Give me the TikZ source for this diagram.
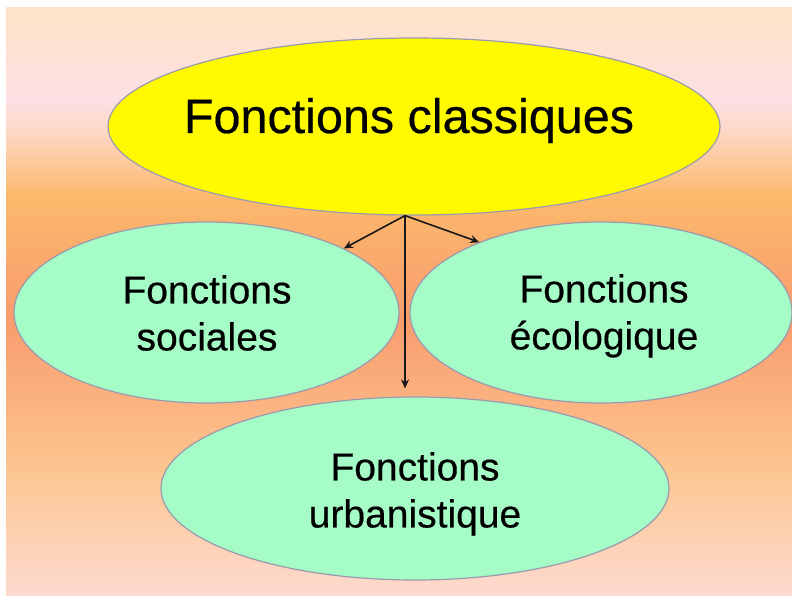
\documentclass[tikz,border=0pt]{standalone}
\usepackage{fontspec}
\setmainfont{Liberation Sans}[FakeBold=0.4]
\usepackage{tikz}
\usetikzlibrary{arrows.meta, shapes.geometric}

\definecolor{bgA}{HTML}{FDE3C6}
\definecolor{bgB}{HTML}{FDE0E4}
\definecolor{bgC}{HTML}{FCD6C0}
\definecolor{bgD}{HTML}{FBB96C}
\definecolor{bgE}{HTML}{F99C6E}
\definecolor{bgF}{HTML}{FCC690}
\definecolor{bgG}{HTML}{FDDAD0}
\definecolor{vert}{HTML}{A6FCC6}
\definecolor{jaune}{HTML}{FFFA00}
\definecolor{bord}{HTML}{9A9AAE}

\tikzset{
    bulle/.style={ellipse, draw=bord, line width=1.2pt, inner sep=0pt},
    titre/.style={font=\fontsize{48.5}{58}\selectfont, inner sep=0pt, anchor=base},
    texte/.style={font=\fontsize{39}{47}\selectfont, align=center, inner sep=0pt, anchor=north},
    fleche/.style={-{Stealth[length=9pt, width=8pt, inset=3pt]}, line width=1.6pt, draw=black!90}
}

\begin{document}
\begin{tikzpicture}[x=1pt, y=-1pt]
        \useasboundingbox (0,0) rectangle (792,596);
        \fill[white] (0,0) rectangle (792,596);
        
        % fond en degrade
        \foreach \ya/\yb/\ca/\cb in {8/101/bgA/bgB, 100/136/bgB/bgC, 135/196/bgC/bgD,
                                     195/321/bgD/bgE, 320/471/bgE/bgF, 470/596/bgF/bgG}
            \shade[top color=\ca, bottom color=\cb] (6,\ya) rectangle (792,\yb);
        
        \node[bulle, fill=jaune, minimum width=612pt, minimum height=177pt] (classic) at (414,126.5) {};
        \node[bulle, fill=vert, minimum width=385pt, minimum height=181pt] (social) at (206.5,312.5) {};
        \node[bulle, fill=vert, minimum width=382pt, minimum height=181pt] (ecolo) at (601,312.5) {};
        \node[bulle, fill=vert, minimum width=508pt, minimum height=183pt] (urban) at (415,488.5) {};
        
        \node[titre] (classictxt) at (409,133) {Fonctions classiques};
        \node[texte] (socialtxt) at (207,275) {Fonctions\\sociales};
        \node[texte] (ecolotxt) at (604,274) {Fonctions\\écologique};
        \node[texte] (urbantxt) at (415,452) {Fonctions\\urbanistique};
        
        \coordinate (fork) at ([xshift=-9pt]classic.south);
        \draw[fleche] (fork) -- (social.25);
        \draw[fleche] (fork) -- (ecolo.150);
        \draw[fleche, shorten >=8pt] (fork) -- (fork |- urban.north);
    \end{tikzpicture}
\end{document}
